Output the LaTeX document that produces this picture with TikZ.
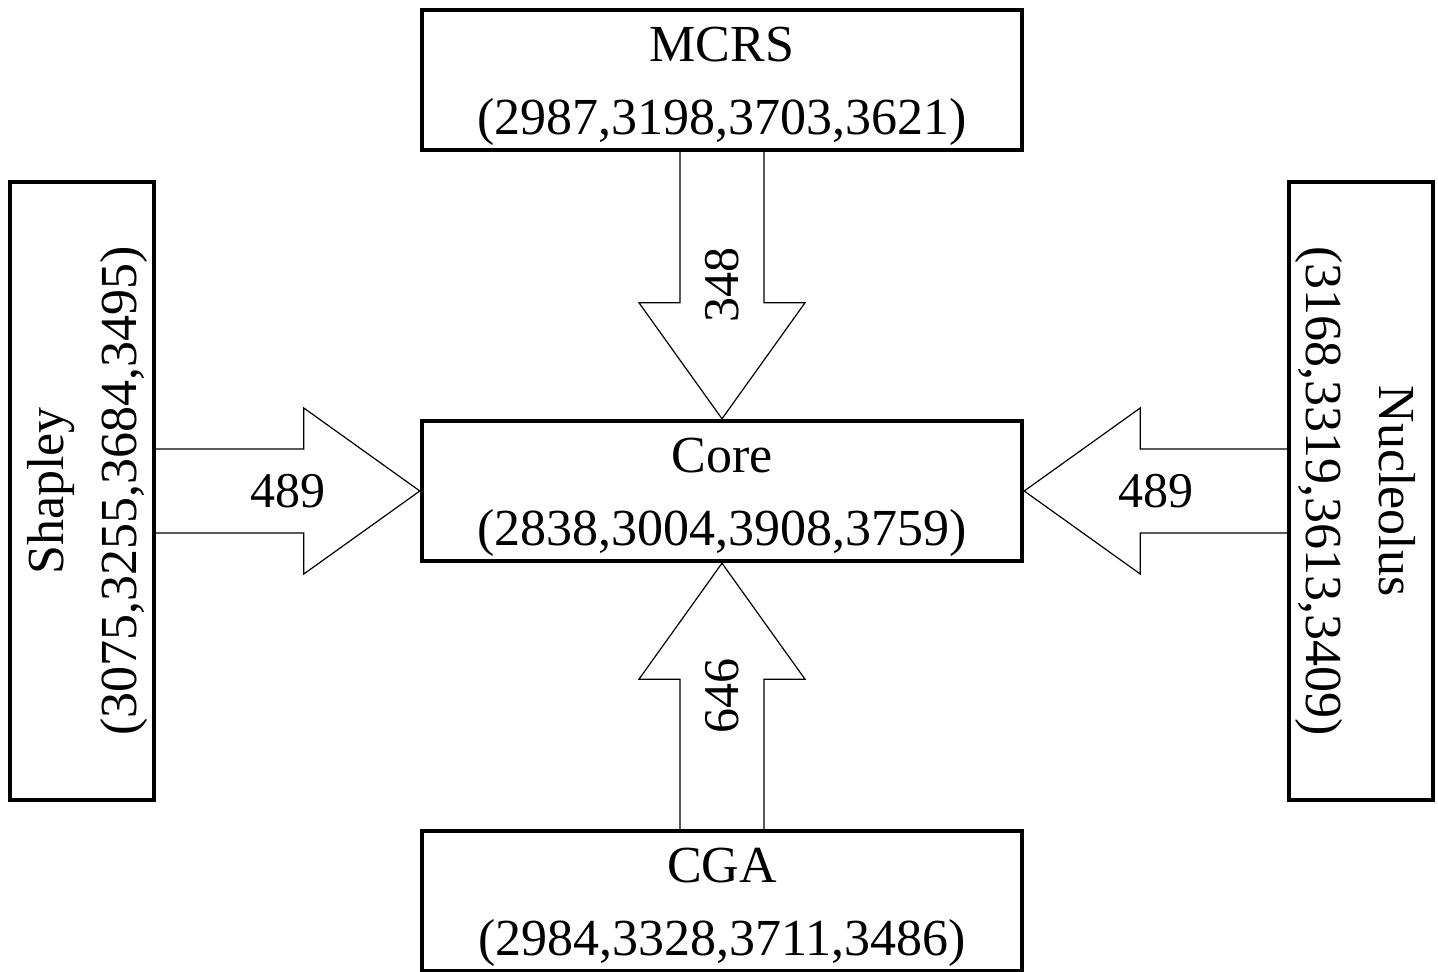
\documentclass[tikz,border=0pt]{standalone}
\usepackage{fontspec}
\setmainfont{Liberation Serif}
\usetikzlibrary{calc}
\newcommand\lift{\rule{0pt}{24pt}}
\tikzset{
  box/.style={draw, line width=2.2pt, align=center, inner sep=0pt,
    minimum width=300pt, minimum height=70pt, font=\fontsize{26}{36.5}\selectfont},
  sidebox/.style={box, minimum width=309pt, minimum height=72pt},
  fat/.style={draw, line width=0.6pt, line join=miter},
  amount/.style={font=\fontsize{25}{30}\selectfont}
}
\begin{document}
\begin{tikzpicture}[x=0.5pt, y=-0.5pt]
      \useasboundingbox (0,0) rectangle (1438,972);
      \node[box] (core) at (722,491) {\lift Core\\(2838,3004,3908,3759)};
      \node[box] (mcrs) at (722,80) {\lift MCRS\\(2987,3198,3703,3621)};
      \node[box] (cga) at (722,901) {\lift CGA\\(2984,3328,3711,3486)};
      \node[sidebox, rotate=90] (shapley) at (82,491) {\lift Shapley\\(3075,3255,3684,3495)};
      \node[sidebox, rotate=-90] (nucleolus) at (1361,491) {\lift Nucleolus\\(3168,3319,3613,3409)};
      \begin{scope}[fat]
        \draw ($(mcrs.south)+(-42,0)$) -- ($(core.north)+(-42,-116)$) -- ($(core.north)+(-83,-116)$)
          -- (core.north) -- ($(core.north)+(83,-116)$) -- ($(core.north)+(42,-116)$) -- ($(mcrs.south)+(42,0)$);
        \draw ($(cga.north)+(-42,0)$) -- ($(core.south)+(-42,116)$) -- ($(core.south)+(-83,116)$)
          -- (core.south) -- ($(core.south)+(83,116)$) -- ($(core.south)+(42,116)$) -- ($(cga.north)+(42,0)$);
        \draw ($(shapley.south)+(0,-42)$) -- ($(core.west)+(-116,-42)$) -- ($(core.west)+(-116,-83)$)
          -- (core.west) -- ($(core.west)+(-116,83)$) -- ($(core.west)+(-116,42)$) -- ($(shapley.south)+(0,42)$);
        \draw ($(nucleolus.south)+(0,-42)$) -- ($(core.east)+(116,-42)$) -- ($(core.east)+(116,-83)$)
          -- (core.east) -- ($(core.east)+(116,83)$) -- ($(core.east)+(116,42)$) -- ($(nucleolus.south)+(0,42)$);
      \end{scope}
      \node[amount, rotate=90] (m348) at ($(mcrs.south)!0.5!(core.north)$) {348};
      \node[amount, rotate=90] (m646) at ($(cga.north)!0.5!(core.south)$) {646};
      \node[amount] (s489) at ($(shapley.south)!0.5!(core.west)$) {489};
      \node[amount] (n489) at ($(nucleolus.south)!0.5!(core.east)$) {489};
    \end{tikzpicture}
\end{document}
